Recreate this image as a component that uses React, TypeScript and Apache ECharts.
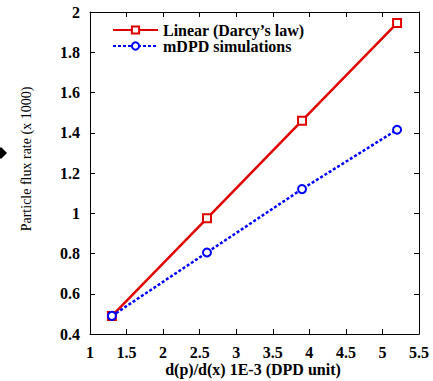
import React, { useEffect, useRef } from "react";
import * as echarts from "echarts";

const xValues = [1.3, 2.6, 3.9, 5.2];
const linearValues = [0.49, 0.975, 1.46, 1.945];
const mdpdValues = [0.49, 0.805, 1.12, 1.415];
const seriesNames = ["Linear (Darcy\u2019s law)", "mDPD simulations"];
const xTitle = "d(p)/d(x) 1E-3 (DPD unit)";
const yTitle = "Particle flux rate (x 1000)";

const FONT = "Liberation Serif";
const RED = "#e00000";
const BLUE = "#0000ff";

export default function App() {
  const ref = useRef<HTMLDivElement>(null);
  useEffect(() => {
    if (!ref.current) return;
    const chart = echarts.init(ref.current, undefined, { renderer: "svg" });
    const axisCommon = {
      axisLine: { show: true, onZero: false, lineStyle: { color: "#000", width: 1 } },
      axisTick: { show: true, inside: true, length: 5, lineStyle: { color: "#000" } },
      splitLine: { show: false },
    };
    const labelStyle = { fontFamily: FONT, fontWeight: "bold", fontSize: 16, color: "#000" };
    chart.setOption({
      animation: false,
      backgroundColor: "#fff",
      textStyle: { fontFamily: FONT },
      grid: { left: 90, right: 14, top: 12, bottom: 47 },
      legend: {
        orient: "vertical",
        left: 107,
        top: 17,
        itemGap: 0,
        itemWidth: 45,
        itemHeight: 9,
        textStyle: { fontFamily: FONT, fontWeight: "bold", fontSize: 16, color: "#000", lineHeight: 16 },
        data: seriesNames,
      },
      xAxis: [
        {
          type: "value",
          min: 1,
          max: 5.5,
          interval: 0.5,
          ...axisCommon,
          axisLabel: { margin: 10, ...labelStyle },
        },
        {
          type: "value",
          position: "top",
          min: 1,
          max: 5.5,
          interval: 0.5,
          ...axisCommon,
          axisLabel: { show: false },
        },
      ],
      yAxis: [
        {
          type: "value",
          min: 0.4,
          max: 2,
          interval: 0.2,
          ...axisCommon,
          axisLabel: { margin: 10, ...labelStyle },
        },
        {
          type: "value",
          position: "right",
          min: 0.4,
          max: 2,
          interval: 0.2,
          ...axisCommon,
          axisLabel: { show: false },
        },
      ],
      graphic: [
        {
          type: "text",
          x: 26,
          y: 159,
          rotation: Math.PI / 2,
          style: {
            text: yTitle,
            fontFamily: FONT,
            fontSize: 14,
            fill: "#000",
            textAlign: "center",
            textVerticalAlign: "middle",
          },
        },
        {
          type: "text",
          x: 253,
          y: 369,
          style: {
            text: xTitle,
            fontFamily: FONT,
            fontSize: 16,
            fontWeight: "bold",
            fill: "#000",
            textAlign: "center",
            textVerticalAlign: "middle",
          },
        },
        {
          type: "polygon",
          shape: { points: [[-5, 153], [1, 147], [7, 153], [1, 159]] },
          style: { fill: "#000" },
        },
      ],
      series: [
        {
          name: seriesNames[0],
          type: "line",
          data: xValues.map((x, i) => [x, linearValues[i]]),
          symbol: "rect",
          symbolSize: 8,
          itemStyle: { color: "#fff", borderColor: RED, borderWidth: 2 },
          lineStyle: { color: RED, width: 2.5 },
          z: 2,
        },
        {
          name: seriesNames[1],
          type: "line",
          data: xValues.map((x, i) => [x, mdpdValues[i]]),
          symbol: "circle",
          symbolSize: 8,
          itemStyle: { color: "#fff", borderColor: BLUE, borderWidth: 2 },
          lineStyle: { color: BLUE, width: 2.5, type: [3, 2] },
          z: 3,
        },
      ],
    });
    return () => chart.dispose();
  }, []);
  return <div ref={ref} style={{ width: 433, height: 381, position: "absolute", left: 0, top: 0 }} />;
}
